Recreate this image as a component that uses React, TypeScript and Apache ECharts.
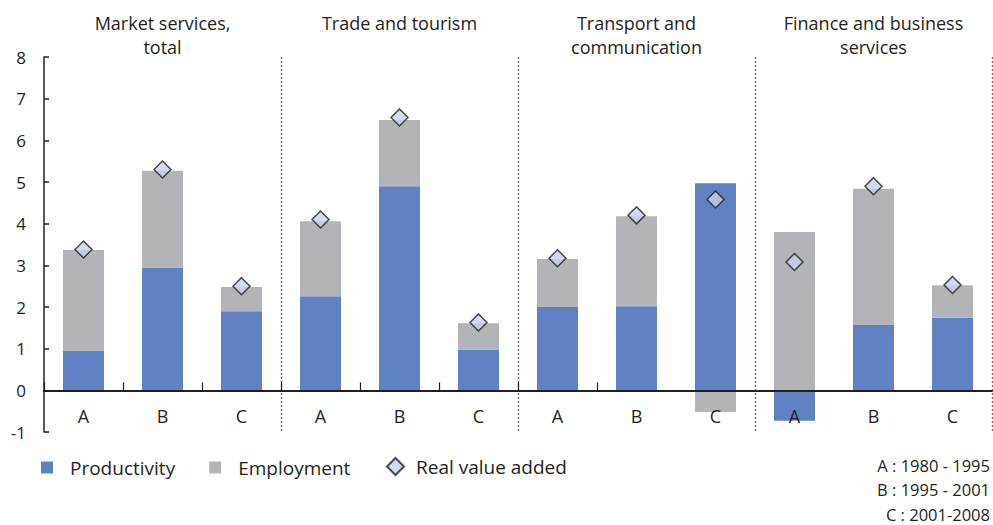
import React, { useEffect, useRef } from "react";
import * as echarts from "echarts";

const categories = ["A", "B", "C", "A", "B", "C", "A", "B", "C", "A", "B", "C"];
const productivity = [0.95, 2.95, 1.9, 2.26, 4.9, 0.98, 2.0, 2.02, 4.97, -0.73, 1.57, 1.74];
const employment = [2.42, 2.32, 0.58, 1.8, 1.59, 0.63, 1.15, 2.16, -0.52, 3.8, 3.27, 0.78];
const realValueAdded = [3.38, 5.3, 2.5, 4.1, 6.55, 1.63, 3.17, 4.2, 4.58, 3.08, 4.9, 2.53];
const groupTitles = [
  "Market services,\ntotal",
  "Trade and tourism",
  "Transport and\ncommunication",
  "Finance and business\nservices",
];
const periodNotes = ["A : 1980 - 1995", "B : 1995 - 2001", "C : 2001-2008"];

const FONT = "'Open Sans', 'Noto Sans', sans-serif";
const INK = "#231f20";
const BLUE = "#6082c3";
const GREY = "#b3b4b7";
const DIAMOND = "#c9d1ec";

const GRID_LEFT = 44;
const GRID_RIGHT = 1;
const W = 993;

export default function App() {
  const ref = useRef<HTMLDivElement>(null);
  useEffect(() => {
    if (!ref.current) return;
    const chart = echarts.init(ref.current, null, { renderer: "svg" });
    const plotW = W - GRID_LEFT - GRID_RIGHT;
    const groupW = plotW / groupTitles.length;
    const titleGraphics = groupTitles.map((t, i) => ({
      type: "text",
      x: GRID_LEFT + groupW * (i + 0.5),
      y: 11,
      style: {
        text: t,
        fontFamily: FONT,
        fontSize: 18,
        lineHeight: 24,
        fill: INK,
        textAlign: "center",
        textVerticalAlign: "top",
      },
    }));
    const noteGraphics = periodNotes.map((t, i) => ({
      type: "text",
      x: 990,
      y: 465 + i * 24.5,
      style: {
        text: t,
        fontFamily: FONT,
        fontSize: 16.5,
        fill: INK,
        textAlign: "right",
        textVerticalAlign: "middle",
      },
    }));
    // category boundaries inside each group (small upward ticks on the zero line)
    const innerBoundaries = categories
      .map((_, i) => i)
      .filter((i) => i % 3 !== 0);
    chart.setOption({
      animation: false,
      textStyle: { fontFamily: FONT, color: INK },
      grid: { left: GRID_LEFT, right: GRID_RIGHT, top: 57, bottom: 93, containLabel: false },
      legend: [
        {
          data: [
            { name: "Productivity", icon: "rect" },
            { name: "Employment", icon: "rect" },
          ],
          left: 36,
          top: 453,
          itemWidth: 12,
          itemHeight: 12,
          itemGap: 34,
          textStyle: { fontFamily: FONT, fontSize: 19, color: INK, padding: [0, 0, 0, 12] },
        },
        {
          data: [{ name: "Real value added", icon: "diamond" }],
          left: 381,
          top: 452,
          itemWidth: 17,
          itemHeight: 17,
          textStyle: { fontFamily: FONT, fontSize: 19, color: INK, padding: [0, 0, 0, 7] },
        },
      ],
      xAxis: {
        type: "category",
        data: categories,
        boundaryGap: true,
        z: 10,
        axisLine: { onZero: true, lineStyle: { color: INK, width: 2 } },
        axisTick: { show: false },
        axisLabel: { margin: -25, fontSize: 18, color: INK, fontFamily: FONT, interval: 0 },
        splitLine: {
          show: true,
          interval: (i: number) => i % 3 === 0 && i > 0,
          lineStyle: { color: "#666", type: [2, 2], width: 1.3 },
        },
      },
      yAxis: {
        type: "value",
        min: -1,
        max: 8,
        interval: 1,
        axisLine: { show: true, lineStyle: { color: INK, width: 1.5 } },
        axisTick: { show: true, inside: true, length: 5, lineStyle: { color: INK, width: 1.5 } },
        axisLabel: { fontSize: 17, color: INK, fontFamily: FONT, margin: 18 },
        splitLine: { show: false },
      },
      series: [
        {
          name: "Productivity",
          type: "bar",
          stack: "total",
          data: productivity,
          barWidth: 41,
          itemStyle: { color: BLUE },
        },
        {
          name: "Employment",
          type: "bar",
          stack: "total",
          data: employment,
          barWidth: 41,
          itemStyle: { color: GREY },
        },
        {
          name: "Real value added",
          type: "scatter",
          data: realValueAdded,
          symbol: "diamond",
          symbolSize: 17,
          z: 5,
          itemStyle: { color: DIAMOND, borderColor: INK, borderWidth: 1.5 },
        },
        {
          name: "ticks",
          type: "custom",
          silent: true,
          z: 11,
          data: innerBoundaries,
          renderItem: (params: any, api: any) => {
            const idx = api.value(0);
            const p = api.coord([idx, 0]);
            const band = api.size([1, 0])[0];
            const x = Math.round(p[0] - band / 2) + 0.5;
            return {
              type: "line",
              shape: { x1: x, y1: p[1], x2: x, y2: p[1] - 8 },
              style: { stroke: INK, lineWidth: 1.2 },
            };
          },
        },
      ],
      graphic: [...titleGraphics, ...noteGraphics],
    });
    return () => chart.dispose();
  }, []);
  return <div ref={ref} style={{ width: 993, height: 525, position: "absolute", left: 0, top: 0 }} />;
}
